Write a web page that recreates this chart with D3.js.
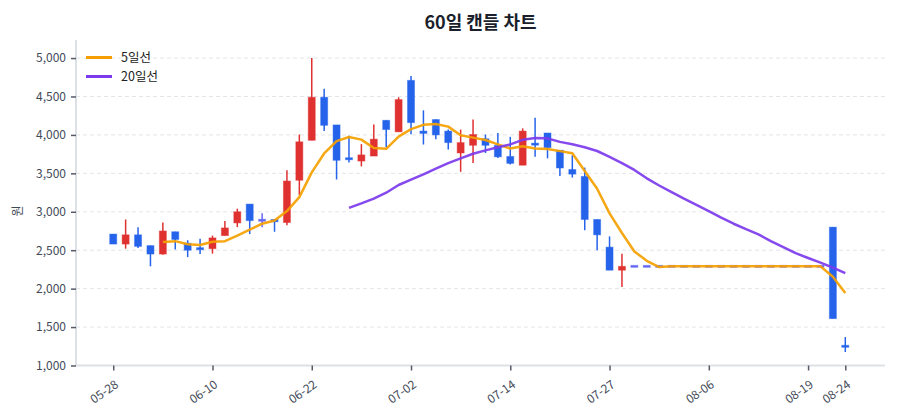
<!DOCTYPE html>
<html><head><meta charset="utf-8">
<script src="https://cdn.jsdelivr.net/npm/d3@7"></script>
<style>
body{margin:0;background:#fff;font-family:"Noto Sans CJK KR","Noto Sans",sans-serif;}
</style></head>
<body><svg id="c" width="900" height="420"></svg>
<script>
const dates = ["05-28","05-29","05-30","06-02","06-03","06-04","06-05","06-09","06-10",
"06-11","06-12","06-13","06-16","06-17","06-18","06-20","06-22",
"06-23","06-24","06-25","06-26","06-27","06-30","07-01","07-02",
"07-03","07-04","07-07","07-08","07-09","07-10","07-11","07-14",
"07-15","07-16","07-17","07-18","07-21","07-22","07-24","07-27",
"07-28","07-29","07-30","07-31","08-01","08-04","08-05","08-06",
"08-07","08-08","08-11","08-12","08-13","08-14","08-18","08-19",
"08-20","08-21","08-24"];
const open  = [2710,2580,2700,2560,2450,2740,2590,2520,2520,2690,2855,3100,2890,2900,2860,3410,3930,4490,4130,3690,
               3660,3725,4190,4040,4710,4050,4200,4050,3765,3865,3950,3865,3720,3606,3880,4025,3800,3550,3460,2900,
               2540,2240,2290,2290,2290,2290,2290,2290,2290,2290,2290,2290,2290,2290,2290,2290,2290,2290,2800,1250];
const high  = [2710,2900,2800,2560,2860,2740,2630,2650,2690,2880,3040,3100,2980,2900,3540,4005,5000,4600,4130,3990,
               3880,4135,4190,4490,4765,4320,4200,4070,4070,4200,4005,4025,3975,4085,4225,4025,3800,3735,3575,2900,
               2680,2455,2290,2290,2290,2290,2290,2290,2290,2290,2290,2290,2290,2290,2290,2290,2290,2290,2800,1370];
const low   = [2580,2520,2530,2290,2440,2510,2410,2450,2455,2690,2800,2710,2800,2740,2825,3215,3930,4050,3420,3640,
               3590,3725,3835,4040,4010,3875,3945,3810,3520,3635,3765,3700,3615,3606,3715,3695,3465,3445,2760,2500,
               2240,2020,2290,2290,2290,2290,2290,2290,2290,2290,2290,2290,2290,2290,2290,2290,2290,2290,1610,1175];
const close = [2580,2700,2550,2450,2750,2640,2500,2500,2660,2790,3000,2885,2890,2870,3400,3910,4490,4125,3670,3670,
               3740,3945,4070,4460,4160,4020,4000,3900,3900,4005,3865,3715,3630,4050,3860,3835,3570,3490,2900,2700,
               2240,2290,2290,2290,2290,2290,2290,2290,2290,2290,2290,2290,2290,2290,2290,2290,2290,2290,1610,1230];
const tickDates = ["05-28","06-10","06-22","07-02","07-14","07-27","08-06","08-19","08-24"];
const yTicks = [1000,1500,2000,2500,3000,3500,4000,4500,5000];
const maPeriods = [5,20];
const maNames = ["5일선","20일선"];

const svg = d3.select("#c");
const L=76, R=885, T=40, B=365.5;
const x = d3.scaleLinear().domain([-3,62.2]).range([L,R]);
const y = d3.scaleLinear().domain([1000,5235]).range([B,T]);
const idx = d3.range(dates.length);

const RED="#e03131", BLUE="#2563eb", DOJI="#6466f1";
const maColors=["#f59f00","#7c3aed"];

// grid
svg.append("g").selectAll("line").data(yTicks).join("line")
  .attr("x1",L).attr("x2",R).attr("y1",d=>y(d)).attr("y2",d=>y(d))
  .attr("stroke","#e3e5e8").attr("stroke-width",1).attr("stroke-dasharray","4,3");

// axes
const yAxis = d3.axisLeft(y).tickValues(yTicks).tickFormat(d3.format(",")).tickSize(5).tickPadding(5);
const gy = svg.append("g").attr("transform",`translate(${L},0)`).call(yAxis);
gy.select(".domain").attr("stroke","#dde1e6").attr("stroke-width",2).attr("d",`M0,${T}V${B}`);
gy.selectAll(".tick line").attr("stroke","#555b66").attr("stroke-width",1.5);
gy.selectAll(".tick text").attr("fill","#434a57").attr("font-size",12).attr("font-family","'Noto Sans CJK KR','Noto Sans',sans-serif");

const tickIdx = tickDates.map(d=>dates.indexOf(d));
const xAxis = d3.axisBottom(x).tickValues(tickIdx).tickFormat(i=>dates[i]).tickSize(5).tickPadding(4);
const gx = svg.append("g").attr("transform",`translate(0,${B})`).call(xAxis);
gx.select(".domain").attr("stroke","#dde1e6").attr("stroke-width",2).attr("d",`M${L},0H${R}`);
gx.selectAll(".tick line").attr("stroke","#555b66").attr("stroke-width",1.5);
gx.selectAll(".tick text").attr("fill","#434a57").attr("font-size",12)
  .attr("font-family","'Noto Sans CJK KR','Noto Sans',sans-serif")
  .attr("text-anchor","end").attr("dy","0.35em")
  .attr("transform","translate(-2,10) rotate(-35)");

// candles
const cw = 7;
const col = i => close[i]>open[i]?RED:(close[i]<open[i]?BLUE:DOJI);
const cg = svg.append("g");
cg.selectAll("line.w").data(idx).join("line").attr("class","w")
  .attr("x1",i=>x(i)).attr("x2",i=>x(i)).attr("y1",i=>y(high[i])).attr("y2",i=>y(low[i]))
  .attr("stroke",col).attr("stroke-width",1.5);
cg.selectAll("rect").data(idx).join("rect")
  .attr("x",i=>x(i)-cw/2).attr("width",cw)
  .attr("y",i=>Math.min(y(open[i]),y(close[i])) - (Math.abs(y(open[i])-y(close[i]))<2?1:0))
  .attr("height",i=>Math.max(2,Math.abs(y(open[i])-y(close[i]))))
  .attr("fill",col).attr("stroke",col).attr("stroke-opacity",0.45).attr("stroke-width",1);

// moving averages
maPeriods.forEach((p,k)=>{
  const pts = idx.filter(i=>i>=p-1).map(i=>[i,d3.mean(close.slice(i-p+1,i+1))]);
  svg.append("path").datum(pts)
    .attr("d",d3.line().x(d=>x(d[0])).y(d=>y(d[1])))
    .attr("fill","none").attr("stroke",maColors[k]).attr("stroke-width",2.5)
    .attr("stroke-opacity",0.92).attr("stroke-linejoin","round");
});

// legend
const lg = svg.append("g");
maNames.forEach((n,k)=>{
  const yy = 57.5 + k*19;
  lg.append("line").attr("x1",86).attr("x2",112).attr("y1",yy).attr("y2",yy)
    .attr("stroke",maColors[k]).attr("stroke-width",3);
  lg.append("text").attr("x",121).attr("y",yy).attr("dy","0.35em")
    .attr("font-size",12.5).attr("fill","#222").text(n);
});

// title
svg.append("text").attr("x",(L+R)/2).attr("y",29).attr("text-anchor","middle")
  .attr("font-size",18).attr("font-weight","bold").attr("fill","#1a1f2b").text("60일 캔들 차트");
// y title
svg.append("text").attr("transform","translate(22,211) rotate(-90)").attr("text-anchor","middle")
  .attr("font-size",12).attr("fill","#434a57").text("원");
</script></body></html>
